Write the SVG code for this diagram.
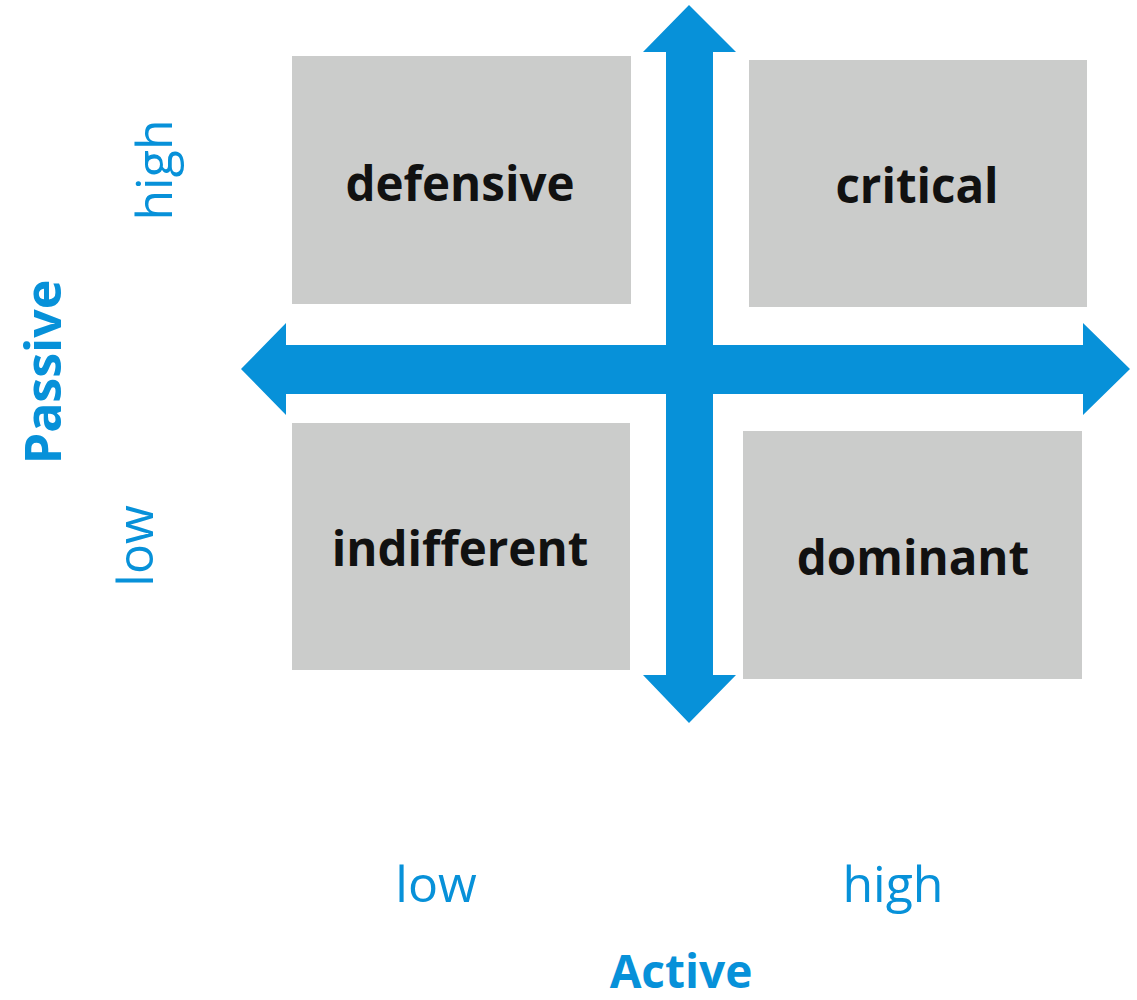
<svg xmlns="http://www.w3.org/2000/svg" width="1137" height="1000" viewBox="0 0 1137 1000">
<style>
.box{fill:#cbcccb}
.lbl{font-family:"Open Sans","Liberation Sans",sans-serif;font-weight:700;font-size:47.5px;fill:#111;text-anchor:middle}
.ax{font-family:"Open Sans","Liberation Sans",sans-serif;font-size:50px;fill:#0791d9;text-anchor:middle}
.axb{font-family:"Open Sans","Liberation Sans",sans-serif;font-weight:700;font-size:50px;fill:#0791d9;text-anchor:middle}
.arr{fill:#0791d9}
</style>
<rect width="1137" height="1000" fill="#fff"/>
<g id="defensive"><rect class="box" x="292" y="56" width="339" height="248"/><text class="lbl" x="460" y="201">defensive</text></g>
<g id="critical"><rect class="box" x="749" y="60" width="338" height="247"/><text class="lbl" x="917" y="203">critical</text></g>
<g id="indifferent"><rect class="box" x="292" y="423" width="338" height="247"/><text class="lbl" x="460" y="566">indifferent</text></g>
<g id="dominant"><rect class="box" x="743" y="431" width="339" height="248"/><text class="lbl" x="913" y="575">dominant</text></g>
<g id="connectors">
<polygon class="arr" points="689,5 736,52 713,52 713,675 736,675 689,723 643,675 666,675 666,52 643,52"/>
<polygon class="arr" points="241,369 286,323 286,345 1083,345 1083,323 1130,369 1083,415 1083,394 286,394 286,415"/>
</g>
<g id="axis-labels">
<text class="ax" transform="translate(172,170) rotate(-90)">high</text>
<text class="ax" transform="translate(153,546) rotate(-90)">low</text>
<text class="axb" transform="translate(61,372) rotate(-90)">Passive</text>
<text class="ax" x="436" y="902">low</text>
<text class="ax" x="893" y="902">high</text>
<text class="axb" x="681" y="988" style="font-size:46px">Active</text>
</g>
</svg>
